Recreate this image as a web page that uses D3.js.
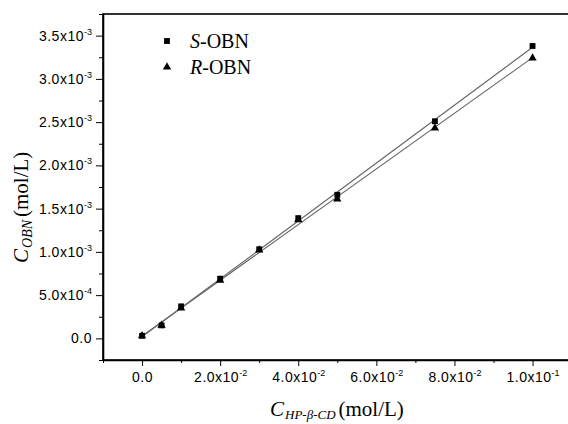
<!DOCTYPE html>
<html><head><meta charset="utf-8">
<script src="https://cdn.jsdelivr.net/npm/d3@7"></script>
<style>body{margin:0;background:#fff}svg{display:block}</style>
</head><body>
<svg id="c" width="568" height="424"></svg>
<script>
// ---- data ----
const concHP = [0, 0.005, 0.01, 0.02, 0.03, 0.04, 0.05, 0.075, 0.1];
const sOBN = [3.0e-5, 1.5e-4, 3.7e-4, 6.9e-4, 1.03e-3, 1.39e-3, 1.66e-3, 2.51e-3, 3.38e-3];
const rOBN = [3.0e-5, 1.5e-4, 3.5e-4, 6.7e-4, 1.02e-3, 1.37e-3, 1.61e-3, 2.43e-3, 3.24e-3];
const seriesNames = ["S", "R"];
const xTicks = [0, 0.02, 0.04, 0.06, 0.08, 0.1];
const xMinor = [-0.01, 0.01, 0.03, 0.05, 0.07, 0.09, 0.11];
const yTicks = [0, 5e-4, 1e-3, 1.5e-3, 2e-3, 2.5e-3, 3e-3, 3.5e-3];
const yMinor = [-2.5e-4, 2.5e-4, 7.5e-4, 1.25e-3, 1.75e-3, 2.25e-3, 2.75e-3, 3.25e-3, 3.75e-3];

const L = 103, T = 14, B = 360, R = 571.6;
const svg = d3.select("#c");
const x = d3.scaleLinear().domain([-0.01, 0.11]).range([L, R]);
const y = d3.scaleLinear().domain([-2.5e-4, 3.75e-3]).range([B, T]);

function fmt(v) {
  if (v === 0) return ["0.0", null];
  const e = Math.floor(Math.log10(Math.abs(v)) + 1e-9);
  const m = v / Math.pow(10, e);
  return [m.toFixed(1) + "x10", String(e)];
}
function labelize(sel) {
  sel.each(function(d) {
    const t = d3.select(this);
    const [main, sup] = fmt(d);
    t.text(null);
    t.append("tspan").text(main);
    if (sup) t.append("tspan").attr("font-size", 9).attr("letter-spacing", 0).attr("dy", -6).text(sup);
  });
}

// frame
svg.append("rect").attr("x", L).attr("y", T).attr("width", R - L).attr("height", B - T)
  .attr("fill", "none").attr("stroke", "#000").attr("stroke-width", 1.6);

// axes
const fontAx = "'Liberation Sans', Arial, sans-serif";
const gx = svg.append("g").attr("transform", `translate(0,${B})`)
  .call(d3.axisBottom(x).tickValues(xTicks).tickSize(6).tickSizeOuter(0));
gx.select(".domain").attr("stroke-width", 1.6);
gx.selectAll("text").attr("y", 22).attr("dy", 0).attr("font-size", 14).attr("letter-spacing", 0.5)
  .attr("font-family", fontAx).attr("fill", "#000").call(labelize);
svg.append("g").attr("transform", `translate(0,${B})`)
  .call(d3.axisBottom(x).tickValues(xMinor).tickSize(3).tickFormat("").tickSizeOuter(0))
  .select(".domain").remove();

const gy = svg.append("g").attr("transform", `translate(${L},0)`)
  .call(d3.axisLeft(y).tickValues(yTicks).tickSize(7).tickSizeOuter(0));
gy.select(".domain").attr("stroke-width", 1.6);
gy.selectAll("text").attr("x", -11).attr("font-size", 14).attr("letter-spacing", 0.5)
  .attr("font-family", fontAx).attr("fill", "#000").call(labelize);
svg.append("g").attr("transform", `translate(${L},0)`)
  .call(d3.axisLeft(y).tickValues(yMinor).tickSize(4).tickFormat("").tickSizeOuter(0))
  .select(".domain").remove();

// fits
function fit(xs, ys) {
  const mx = d3.mean(xs), my = d3.mean(ys);
  let sxy = 0, sxx = 0;
  xs.forEach((v, i) => { sxy += (v - mx) * (ys[i] - my); sxx += (v - mx) * (v - mx); });
  const k = sxy / sxx;
  return [k, my - k * mx];
}
const series = [
  {name: seriesNames[0], vals: sOBN, sym: d3.symbolSquare, size: 34},
  {name: seriesNames[1], vals: rOBN, sym: d3.symbolTriangle, size: 30}
];
const x0 = d3.min(concHP), x1 = d3.max(concHP);
series.forEach(s => {
  const [k, b] = fit(concHP, s.vals);
  svg.append("line")
    .attr("x1", x(x0)).attr("y1", y(k * x0 + b))
    .attr("x2", x(x1)).attr("y2", y(k * x1 + b))
    .attr("stroke", "#666").attr("stroke-width", 1.1);
});
series.forEach(s => {
  svg.append("g").selectAll("path").data(s.vals).join("path")
    .attr("d", d3.symbol().type(s.sym).size(s.size))
    .attr("transform", (d, i) => `translate(${x(concHP[i])},${y(d)})`)
    .attr("fill", "#000");
});

// legend
const fontSerif = "'Liberation Serif', 'Times New Roman', serif";
series.forEach((s, i) => {
  const ly = 41 + i * 26;
  svg.append("path").attr("d", d3.symbol().type(s.sym).size(s.size))
    .attr("transform", `translate(167,${ly})`).attr("fill", "#000");
  const t = svg.append("text").attr("x", 190).attr("y", ly + 6.5)
    .attr("font-family", fontSerif).attr("font-size", 20);
  t.append("tspan").attr("font-style", "italic").text(s.name);
  t.append("tspan").text("-OBN");
});

// axis titles
const xt = svg.append("text").attr("x", 270).attr("y", 416)
  .attr("font-family", fontSerif).attr("font-size", 21);
xt.append("tspan").attr("font-style", "italic").text("C");
xt.append("tspan").attr("font-style", "italic").attr("font-size", 13).attr("dy", 3).attr("dx", 1).text("HP-β-CD");
xt.append("tspan").attr("dy", -3).attr("dx", 3).text("(mol/L)");

const yt = svg.append("text").attr("transform", "translate(28,263) rotate(-90)")
  .attr("font-family", fontSerif).attr("font-size", 21);
yt.append("tspan").attr("font-style", "italic").text("C");
yt.append("tspan").attr("font-style", "italic").attr("font-size", 14).attr("dy", 4).attr("dx", 1).text("OBN");
yt.append("tspan").attr("dy", -4).attr("dx", 3).text("(mol/L)");
</script>
</body></html>
